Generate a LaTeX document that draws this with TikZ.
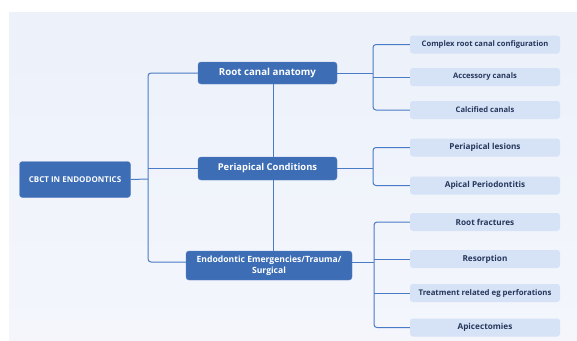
\documentclass[tikz,border=0pt]{standalone}
\usepackage{fontspec}
\setmainfont{Open Sans}
\usetikzlibrary{positioning}
\definecolor{nodeblue}{HTML}{3C6DB5}
\definecolor{leafblue}{HTML}{D6E2F5}
\definecolor{leaftext}{HTML}{26375C}
\definecolor{linkblue}{HTML}{4A7BC6}
\definecolor{paneltop}{HTML}{ECF1FA}
\definecolor{panelbottom}{HTML}{F4F6FC}
\tikzset{
    mainbox/.style={draw=nodeblue!85!white, fill=nodeblue, rounded corners=3pt, text=white,
            font=\bfseries\fontsize{9.4}{11}\selectfont, align=center, inner sep=2pt},
    leafbox/.style={fill=leafblue, rounded corners=3pt, text=leaftext, minimum width=150pt,
            minimum height=18pt, font=\bfseries\fontsize{7.6}{9}\selectfont, inner sep=1pt},
    bigleaf/.style={leafbox, font=\bfseries\fontsize{8.2}{10}\selectfont},
    link/.style={draw=linkblue, line width=1pt},
}
\begin{document}
\begin{tikzpicture}[x=1pt, y=-1pt]
        \useasboundingbox (0,0) rectangle (577,340);
        %draw background panel
        \shade[top color=paneltop, bottom color=panelbottom] (9,12) rectangle (577,340);
        %draw main nodes
        \node[mainbox, minimum width=111pt, minimum height=36pt, font=\bfseries\fontsize{8}{9}\selectfont] (cbct) at (75,179.5) {CBCT IN ENDODONTICS};
        \node[mainbox, minimum width=139pt, minimum height=22pt, font=\bfseries\fontsize{9.7}{11}\selectfont] (anatomy) at (267.5,73) {Root canal anatomy};
        \node[mainbox, minimum width=139pt, minimum height=23pt] (periapical) at (267.5,168.5) {Periapical Conditions};
        \node[mainbox, minimum width=166pt, minimum height=29pt, font=\bfseries\fontsize{8.6}{11}\selectfont] (emergency) at (269,265.5) {Endodontic Emergencies/Trauma/\\Surgical};
        %draw leaf nodes
        \node[leafbox] (complex) at (485,44.5) {Complex root canal configuration};
        \node[leafbox] (accessory) at (485,77) {Accessory canals};
        \node[leafbox] (calcified) at (485,110) {Calcified canals};
        \node[bigleaf] (lesions) at (485,147.5) {Periapical lesions};
        \node[bigleaf] (periodontitis) at (485,185.5) {Apical Periodontitis};
        \node[bigleaf] (fractures) at (485,222) {Root fractures};
        \node[bigleaf] (resorption) at (485,259) {Resorption};
        \node[leafbox, font=\bfseries\fontsize{7.8}{9}\selectfont] (perforations) at (485,293) {Treatment related eg perforations};
        \node[bigleaf] (apicectomies) at (485,327.5) {Apicectomies};
        %branch points
        \coordinate (trunkL) at (148,179);
        \coordinate (spine) at (273,0);
        \coordinate (trunkA) at (373,73);
        \coordinate (trunkB) at (373,168.5);
        \coordinate (trunkC) at (374,262);
        %left bracket
        \draw[link] (cbct.east) -- (trunkL);
        \draw[link, rounded corners=3pt] (anatomy.west) -| (trunkL) |- (trunkC -| emergency.west);
        \draw[link] (trunkL |- periapical.west) -- (periapical.west);
        %middle spine
        \draw[link] (spine |- anatomy.south) -- (spine |- periapical.north);
        \draw[link] (spine |- periapical.south) -- (spine |- emergency.north);
        %right brackets
        \draw[link] (anatomy.east) -- (trunkA);
        \draw[link, rounded corners=3pt] (complex.west) -| (trunkA) |- (calcified.west);
        \draw[link] (trunkA |- accessory.west) -- (accessory.west);
        \draw[link] (periapical.east) -- (trunkB);
        \draw[link, rounded corners=3pt] (lesions.west) -| (trunkB) |- (periodontitis.west);
        \draw[link] (trunkC -| emergency.east) -- (trunkC);
        \draw[link, rounded corners=3pt] (fractures.west) -| (trunkC) |- (apicectomies.west);
        \draw[link] (trunkC |- resorption.west) -- (resorption.west);
        \draw[link] (trunkC |- perforations.west) -- (perforations.west);
    \end{tikzpicture}
\end{document}
